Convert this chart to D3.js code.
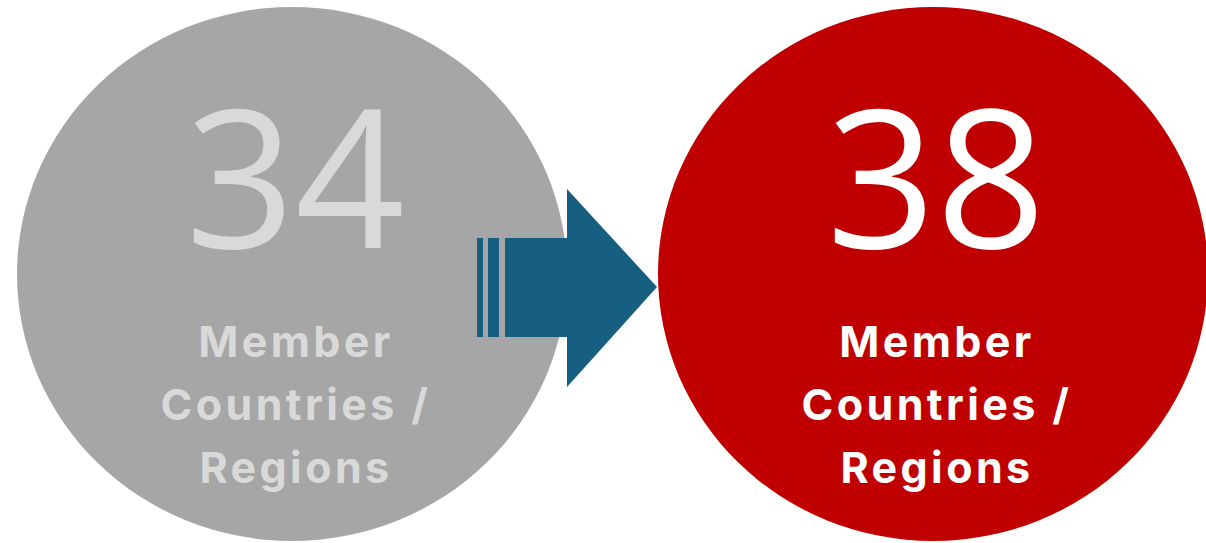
<!DOCTYPE html>
<html lang="en">
<head>
<meta charset="UTF-8">
<title>Member Countries / Regions</title>
<script src="https://d3js.org/d3.v7.min.js"></script>
<style>
  body { margin: 0; background: #fff; }
  svg { display: block; }
  .num { font-family: "Open Sans", "Liberation Sans", sans-serif; font-weight: 400; }
  .lbl { font-family: Inter, "Open Sans", sans-serif; font-weight: 700; letter-spacing: 3.4px; }
</style>
</head>
<body>
<script>
  // values
  const stages = ["before", "after"];
  const counts = [34, 38];
  const labelLines = ["Member", "Countries /", "Regions"];
  const fills = ["#a6a6a6", "#c00000"];
  const textFills = ["#d9d9d9", "#ffffff"];

  const width = 1206, height = 543;

  const svg = d3.select("body").append("svg")
    .attr("width", width)
    .attr("height", height);

  // circle centres along x
  const x = d3.scalePoint()
    .domain(stages)
    .range([292, 933]);

  const cy = 274, rx = 275, ry = 267;

  const data = stages.map((s, i) => ({ stage: s, count: counts[i], fill: fills[i], text: textFills[i] }));

  const g = svg.selectAll("g.stage")
    .data(data)
    .join("g")
    .attr("class", "stage")
    .attr("transform", d => `translate(${x(d.stage)},${cy})`);

  g.append("ellipse")
    .attr("rx", rx)
    .attr("ry", ry)
    .attr("fill", d => d.fill);

  g.append("text")
    .attr("class", "num")
    .attr("text-anchor", "middle")
    .attr("x", 3)
    .attr("y", 248 - cy)
    .attr("font-size", 192)
    .attr("fill", d => d.text)
    .text(d => d.count);

  g.append("text")
    .attr("class", "lbl")
    .attr("text-anchor", "middle")
    .attr("font-size", 43)
    .attr("fill", d => d.text)
    .selectAll("tspan")
    .data(labelLines)
    .join("tspan")
    .attr("x", 4)
    .attr("y", (d, i) => 357 - cy + i * 63)
    .text(d => d);

  // arrow between the two circles
  const ax0 = 505, ax1 = 567, tip = 657;
  const bodyTop = 238, bodyBot = 337, headTop = 189, headBot = 387, tipY = 287;
  const arrowColor = "#165f80";

  svg.append("path")
    .attr("d", `M${ax0},${bodyTop}H${ax1}V${headTop}L${tip},${tipY}L${ax1},${headBot}V${bodyBot}H${ax0}Z`)
    .attr("fill", arrowColor);

  // stripes at the tail
  [[477, 483], [488, 499]].forEach(([a, b]) => {
    svg.append("rect")
      .attr("x", a)
      .attr("y", bodyTop)
      .attr("width", b - a)
      .attr("height", bodyBot - bodyTop)
      .attr("fill", arrowColor);
  });
</script>
</body>
</html>
